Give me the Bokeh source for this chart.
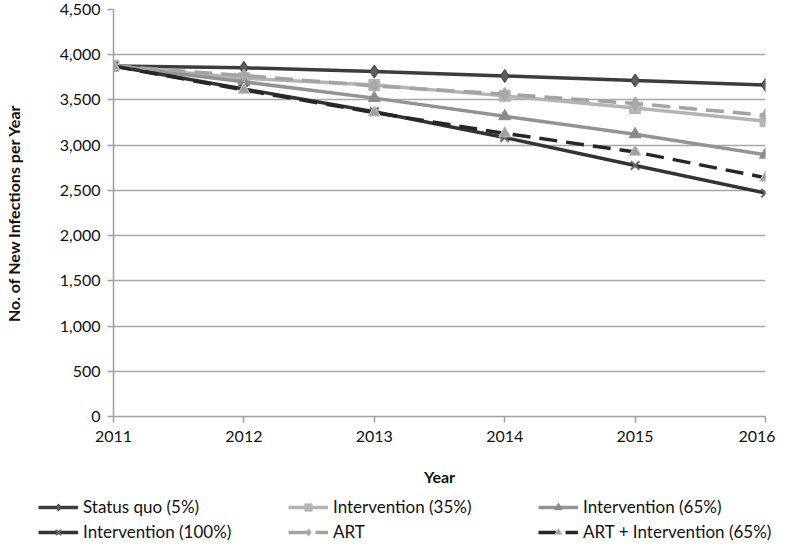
from bokeh.plotting import figure
from bokeh.layouts import column
from bokeh.models import Legend, LegendItem, NumeralTickFormatter, FixedTicker, Range1d
from bokeh.embed import file_html
from bokeh.resources import INLINE

years = [2011, 2012, 2013, 2014, 2015, 2016]
status_quo = [3875, 3855, 3815, 3765, 3715, 3665]
int_35 = [3875, 3740, 3665, 3545, 3410, 3265]
int_65 = [3875, 3700, 3520, 3320, 3120, 2895]
int_100 = [3875, 3620, 3370, 3085, 2775, 2470]
art = [3875, 3770, 3655, 3565, 3460, 3330]
art_int_65 = [3875, 3610, 3360, 3130, 2925, 2640]

series_names = ["Status quo (5%)", "Intervention (35%)", "Intervention (65%)",
                "Intervention (100%)", "ART", "ART + Intervention (65%)"]
y_ticks = [0, 500, 1000, 1500, 2000, 2500, 3000, 3500, 4000, 4500]

FONT = "Lato"

styles = [
    dict(data=status_quo, line="#3c3c3c", dash="solid", marker="diamond", fill="#5e5e5e", mline="#3c3c3c", size=13),
    dict(data=int_35, line="#b4b4b4", dash="solid", marker="square", fill="#b4b4b4", mline="#b4b4b4", size=11),
    dict(data=int_65, line="#939393", dash="solid", marker="triangle", fill="#8a8a8a", mline="#8a8a8a", size=12),
    dict(data=int_100, line="#333333", dash="solid", marker="x", fill="#555555", mline="#666666", size=12),
    dict(data=art, line="#a3a3a3", dash="18 9", marker="diamond", fill="#a8a8a8", mline="#a8a8a8", size=13),
    dict(data=art_int_65, line="#262626", dash="18 9", marker="triangle", fill="#a0a0a0", mline="#c8c8c8", size=12),
]


def draw(fig, st):
    r1 = fig.line(years, st["data"], line_color=st["line"], line_width=3.5, line_dash=st["dash"])
    r2 = fig.scatter(years, st["data"], marker=st["marker"], size=st["size"],
                     fill_color=st["fill"], line_color=st["mline"],
                     line_width=2 if st["marker"] == "x" else 1)
    return r1, r2


p = figure(width=775, height=489, output_backend="svg", toolbar_location=None,
           x_range=Range1d(2011, 2016), y_range=Range1d(0, 4500), frame_align=False,
           min_border_left=102, min_border_right=10, min_border_top=9, min_border_bottom=73)
p.outline_line_color = None
p.background_fill_color = "white"

for st in styles:
    draw(p, st)

p.xaxis.ticker = FixedTicker(ticks=years)
p.yaxis.ticker = FixedTicker(ticks=y_ticks)
p.yaxis.formatter = NumeralTickFormatter(format="0,0")
p.xgrid.grid_line_color = None
p.ygrid.grid_line_color = "#a6a6a6"
p.ygrid.grid_line_width = 1.5
for ax in (p.xaxis[0], p.yaxis[0]):
    ax.axis_line_color = "#a0a0a0"
    ax.axis_line_width = 1.5
    ax.major_tick_line_color = "#a0a0a0"
    ax.major_tick_line_width = 1.5
    ax.major_tick_in = 0
    ax.major_tick_out = 6
    ax.minor_tick_line_color = None
    ax.major_label_text_font = FONT
    ax.major_label_text_font_size = "16px"
    ax.major_label_text_color = "#111111"
    ax.axis_label_text_font = FONT
    ax.axis_label_text_font_size = "16px"
    ax.axis_label_text_font_style = "bold"
    ax.axis_label_text_color = "#111111"
p.xaxis.axis_label = "Year"
p.yaxis.axis_label = "No. of New Infections per Year"
p.xaxis.major_label_standoff = 8
p.xaxis.axis_label_standoff = 22
p.yaxis.major_label_standoff = 7
p.yaxis.axis_label_standoff = 34

# legend panel below the chart
lg = figure(width=775, height=53, output_backend="svg", toolbar_location=None,
            x_range=Range1d(0, 1), y_range=Range1d(0, 1), frame_align=False,
            x_axis_location=None, y_axis_location=None,
            min_border_left=0, min_border_right=0, min_border_top=0, min_border_bottom=0)
lg.outline_line_color = None
lg.grid.visible = False
items = []
for name, st in zip(series_names, styles):
    r1, r2 = draw(lg, st)
    items.append(LegendItem(label=name, renderers=[r1, r2]))

legend = Legend(items=items, ncols=3, orientation="horizontal",
                label_text_font=FONT, label_text_font_size="17px", label_text_color="#111111",
                glyph_width=40, glyph_height=18, label_width=201, label_standoff=5,
                spacing=4, padding=0, margin=0, border_line_color=None,
                background_fill_alpha=0, location=(38, 0))
lg.add_layout(legend, "center")

layout = column(p, lg, spacing=0)
open("out.html", "w").write(file_html(layout, INLINE))
